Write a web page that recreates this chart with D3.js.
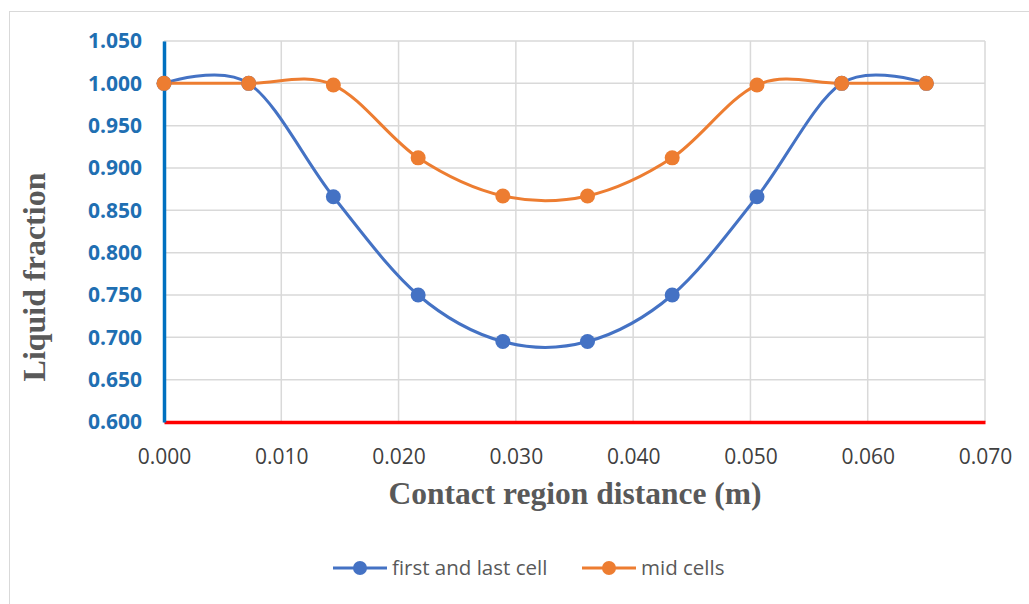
<!DOCTYPE html>
<html>
<head>
<meta charset="utf-8">
<script src="https://cdn.jsdelivr.net/npm/d3@7"></script>
<style>
  body { margin: 0; background: #fff; }
</style>
</head>
<body>
<div id="chart"></div>
<script>
// data
const distance = [0.000, 0.00722, 0.01444, 0.02167, 0.02889, 0.03611, 0.04333, 0.05056, 0.05778, 0.065];
const firstLast = [1.000, 1.000, 0.866, 0.750, 0.695, 0.695, 0.750, 0.866, 1.000, 1.000];
const midCells = [1.000, 1.000, 0.998, 0.912, 0.867, 0.867, 0.912, 0.998, 1.000, 1.000];
const seriesNames = ["first and last cell", "mid cells"];
const xTicks = [0, 0.01, 0.02, 0.03, 0.04, 0.05, 0.06, 0.07];
const yTicks = [0.60, 0.65, 0.70, 0.75, 0.80, 0.85, 0.90, 0.95, 1.00, 1.05];

const W = 1029, H = 604;
const margin = {top: 41, right: 44, bottom: 182, left: 164},
      width = W - margin.left - margin.right,
      height = H - margin.top - margin.bottom;

let svg = d3.select("#chart")
  .append("svg")
    .attr("width", W)
    .attr("height", H);

// outer chart border (only top/left visible)
svg.append("rect")
  .attr("x", 9.5).attr("y", 11.5)
  .attr("width", W + 20).attr("height", H + 20)
  .attr("fill", "none")
  .attr("stroke", "#d9d9d9")
  .attr("stroke-width", 1);

let g = svg.append("g")
  .attr("transform", "translate(" + margin.left + "," + margin.top + ")");

let x = d3.scaleLinear().domain([0, 0.07]).range([0, width]);
let y = d3.scaleLinear().domain([0.6, 1.05]).range([height, 0]);

// gridlines
g.append("g").selectAll("line")
  .data(yTicks)
  .enter().append("line")
    .attr("x1", 0).attr("x2", width)
    .attr("y1", d => y(d)).attr("y2", d => y(d))
    .attr("stroke", "#d9d9d9").attr("stroke-width", 1.5);
g.append("g").selectAll("line")
  .data(xTicks)
  .enter().append("line")
    .attr("x1", d => x(d)).attr("x2", d => x(d))
    .attr("y1", 0).attr("y2", height)
    .attr("stroke", "#d9d9d9").attr("stroke-width", 1.5);

// x axis (red line)
let xAxis = g.append("g")
  .attr("transform", "translate(0," + height + ")")
  .call(d3.axisBottom(x).tickValues(xTicks).tickFormat(d3.format(".3f")).tickSize(0).tickPadding(27));
xAxis.select(".domain").attr("stroke", "#ff0000").attr("stroke-width", 3.5);
xAxis.selectAll("text")
  .attr("fill", "#404040")
  .style("font-family", "'Open Sans', sans-serif")
  .style("font-size", "21px");

// y axis (blue line)
let yAxis = g.append("g")
  .call(d3.axisLeft(y).tickValues(yTicks).tickFormat(d3.format(".3f")).tickSize(0).tickPadding(22));
yAxis.select(".domain").attr("stroke", "#0070c0").attr("stroke-width", 3.5);
yAxis.selectAll("text")
  .attr("fill", "#1f6fb2")
  .style("font-family", "'Open Sans', sans-serif")
  .style("font-weight", "bold")
  .style("font-size", "21px");

// series
const colors = ["#4472c4", "#ed7d31"];
const series = [firstLast, midCells];

let line = d3.line()
  .x((d, i) => x(distance[i]))
  .y(d => y(d))
  .curve(d3.curveCardinal.tension(0));

series.forEach(function(vals, k) {
  g.append("path")
    .datum(vals)
    .attr("d", line)
    .attr("fill", "none")
    .attr("stroke", colors[k])
    .attr("stroke-width", 3);
});
series.forEach(function(vals, k) {
  g.append("g").selectAll("circle")
    .data(vals)
    .enter().append("circle")
      .attr("cx", (d, i) => x(distance[i]))
      .attr("cy", d => y(d))
      .attr("r", 7.5)
      .attr("fill", colors[k]);
});

// axis titles
svg.append("text")
  .attr("transform", "translate(45,277) rotate(-90)")
  .attr("text-anchor", "middle")
  .attr("fill", "#595959")
  .style("font-family", "'Liberation Serif', 'Times New Roman', serif")
  .style("font-weight", "bold")
  .style("font-size", "32px")
  .text("Liquid fraction");

svg.append("text")
  .attr("x", 575).attr("y", 504)
  .attr("text-anchor", "middle")
  .attr("fill", "#595959")
  .style("font-family", "'Liberation Serif', 'Times New Roman', serif")
  .style("font-weight", "bold")
  .style("font-size", "31.5px")
  .text("Contact region distance (m)");

// legend
const legendX = [333, 582];
let legend = svg.append("g").selectAll("g")
  .data(seriesNames)
  .enter().append("g")
    .attr("transform", (d, i) => "translate(" + legendX[i] + ",568)");
legend.append("line")
  .attr("x1", 0).attr("x2", 54)
  .attr("stroke", (d, i) => colors[i]).attr("stroke-width", 3);
legend.append("circle")
  .attr("cx", 27).attr("r", 7)
  .attr("fill", (d, i) => colors[i]);
legend.append("text")
  .attr("x", 59).attr("y", 7)
  .attr("fill", "#595959")
  .style("font-family", "'Open Sans', sans-serif")
  .style("font-size", "20.5px")
  .text(d => d);
</script>
</body>
</html>
